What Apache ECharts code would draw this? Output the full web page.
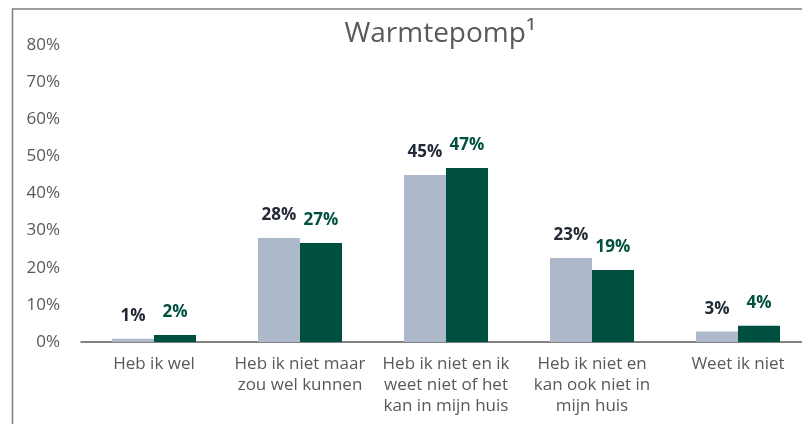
<!DOCTYPE html>
<html>
<head>
<meta charset="utf-8">
<script src="https://cdn.jsdelivr.net/npm/echarts@6/dist/echarts.min.js"></script>
<style>
  html, body { margin: 0; padding: 0; background: #fff; overflow: hidden; }
  #chart { width: 816px; height: 424px; }
</style>
</head>
<body>
<div id="chart"></div>
<script>
const categories = [
  'Heb ik wel',
  'Heb ik niet maar\nzou wel kunnen',
  'Heb ik niet en ik\nweet niet of het\nkan in mijn huis',
  'Heb ik niet en\nkan ook niet in\nmijn huis',
  'Weet ik niet'
]
const greyValues = [0.9, 28, 45, 22.6, 2.8]
const greenValues = [1.9, 26.7, 46.9, 19.4, 4.4]
const yTicks = [0, 10, 20, 30, 40, 50, 60, 70, 80]

const textFont = 'Open Sans'
const labelStyle = (color) => ({
  show: true,
  position: 'top',
  distance: 14,
  fontFamily: 'Open Sans',
  fontWeight: 'bold',
  fontSize: 17,
  color: color,
  formatter: (p) => Math.round(p.value) + '%'
})

// the plot runs past the right edge of the 802px window, so the div is a bit wider
const chart = echarts.init(document.getElementById('chart'))
const option = {
  animation: false,
  title: {
    text: 'Warmtepomp¹',
    left: 435,
    top: 15,
    textAlign: 'center',
    textStyle: { fontFamily: textFont, fontWeight: 'normal', fontSize: 28, color: '#595959' }
  },
  graphic: [
    {
      type: 'rect',
      shape: { x: 12.5, y: 9, width: 900, height: 500 },
      style: { fill: 'none', stroke: '#7f7f7f', lineWidth: 1.5 }
    }
  ],
  grid: { left: 81, width: 730, top: 45, bottom: 82, containLabel: false },
  xAxis: {
    type: 'category',
    data: categories,
    axisLine: { lineStyle: { color: '#595959', width: 1.5 } },
    axisTick: { show: false },
    axisLabel: {
      interval: 0,
      margin: 12,
      fontFamily: textFont,
      fontSize: 17,
      lineHeight: 21,
      color: '#595959'
    }
  },
  yAxis: {
    type: 'value',
    min: yTicks[0],
    max: yTicks[yTicks.length - 1],
    interval: 10,
    splitLine: { show: false },
    axisLine: { show: false },
    axisTick: { show: false },
    axisLabel: {
      margin: 21,
      fontFamily: textFont,
      fontSize: 17,
      color: '#595959',
      formatter: '{value}%'
    }
  },
  series: [
    {
      name: 'grey',
      type: 'bar',
      data: greyValues,
      barWidth: 42,
      barGap: '0%',
      itemStyle: { color: '#ADB9CA' },
      label: labelStyle('#222A35')
    },
    {
      name: 'green',
      type: 'bar',
      data: greenValues,
      barWidth: 42,
      barGap: '0%',
      itemStyle: { color: '#005040' },
      label: labelStyle('#005040')
    }
  ]
}
chart.setOption(option)
</script>
</body>
</html>
